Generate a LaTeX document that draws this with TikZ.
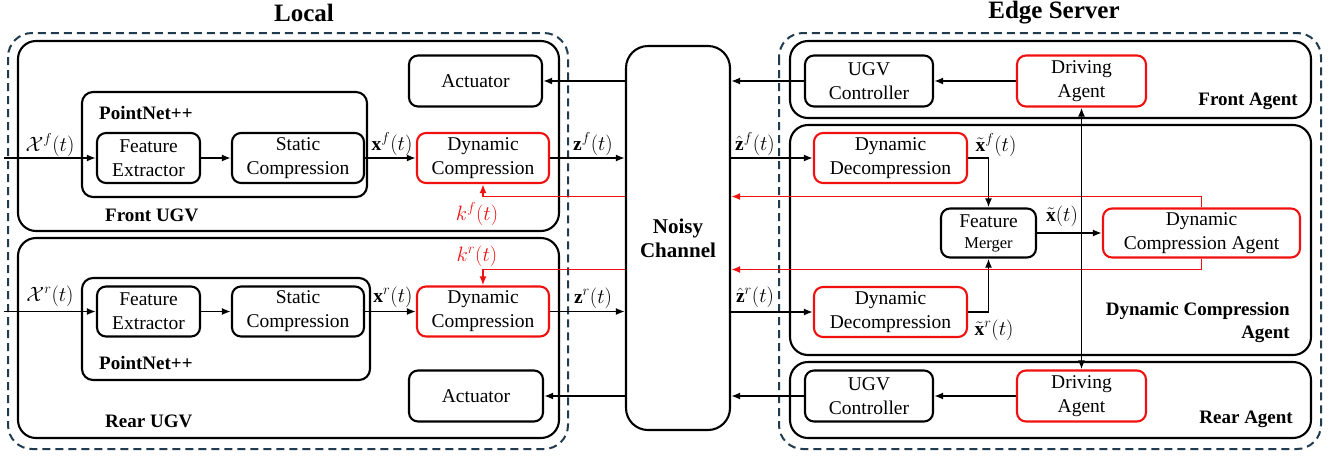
\documentclass[tikz,border=0pt]{standalone}
\usepackage{fontspec}
\setmainfont{Liberation Serif}
\usetikzlibrary{arrows.meta,calc}
\definecolor{dashc}{HTML}{1F3B4D}
\definecolor{myred}{HTML}{F01010}
\begin{document}
\begin{tikzpicture}[x=1pt,y=-1pt,
  box/.style={draw, line width=2.1pt, rounded corners=9pt, align=center, inner sep=0pt, font=\fontsize{19.5}{24}\selectfont},
  redbox/.style={box, draw=myred},
  frame/.style={draw, line width=2.1pt, rounded corners=18pt},
  pnframe/.style={draw, line width=2.1pt, rounded corners=11pt},
  dashframe/.style={draw=dashc, line width=2pt, dash pattern=on 8pt off 5pt, rounded corners=24pt},
  arr/.style={line width=1.9pt, -{Latex[length=9pt,width=7pt]}},
  dblarr/.style={line width=1.9pt, {Latex[length=9pt,width=7pt]}-{Latex[length=9pt,width=7pt]}},
  redarr/.style={arr, draw=myred},
  lab/.style={font=\fontsize{19.5}{24}\selectfont, inner sep=0pt},
  redlab/.style={lab, text=myred},
  blab/.style={font=\fontsize{19}{23}\selectfont\bfseries, inner sep=0pt},
  title/.style={font=\fontsize{25}{30}\selectfont\bfseries, inner sep=0pt},
]
\useasboundingbox (0,0) rectangle (1334,456);

% titles
\node[title] (tlocal) at (304,13) {Local};
\node[title] (tedge) at (1054,13) {Edge Server};

% frames
\draw[dashframe] (8,33) rectangle (568,449);
\draw[dashframe] (779,33) rectangle (1321,449);
\draw[frame] (18,41) rectangle (559,231);
\draw[frame] (18,238) rectangle (559,438);
\draw[pnframe] (82,92) rectangle (367,197);
\draw[pnframe] (82,278) rectangle (370,380);
\draw[frame] (790,41) rectangle (1311,118);
\draw[frame] (790,125) rectangle (1311,355);
\draw[frame] (790,362) rectangle (1311,438);

% frame labels
\node[blab, anchor=west] (pnF) at (99,113) {PointNet++};
\node[blab, anchor=west] (fugv) at (105,215) {Front UGV};
\node[blab, anchor=west] (pnR) at (99,363) {PointNet++};
\node[blab, anchor=west] (rugv) at (105,421) {Rear UGV};
\node[blab, anchor=east] (fag) at (1298,101) {Front Agent};
\node[blab, anchor=east, align=right] (dcal) at (1290,322) {Dynamic Compression\\Agent};
\node[blab, anchor=east] (rag) at (1293,419) {Rear Agent};

% local nodes
\node[box, minimum width=133pt, minimum height=51pt] (actF) at (475.5,81) {Actuator};
\node[box, minimum width=103pt, minimum height=50pt] (feF) at (148.5,158) {Feature\\Extractor};
\node[box, minimum width=132pt, minimum height=50pt] (scF) at (298,158) {Static\\Compression};
\node[redbox, minimum width=132pt, minimum height=50pt] (dcF) at (483,158) {Dynamic\\Compression};
\node[box, minimum width=103pt, minimum height=50pt] (feR) at (148.5,311.5) {Feature\\Extractor};
\node[box, minimum width=132pt, minimum height=50pt] (scR) at (298,311.5) {Static\\Compression};
\node[redbox, minimum width=132pt, minimum height=50pt] (dcR) at (483,311.5) {Dynamic\\Compression};
\node[box, minimum width=134pt, minimum height=51pt] (actR) at (476,396) {Actuator};

% channel
\node[box, rounded corners=22pt, minimum width=104pt, minimum height=384pt, font=\fontsize{21}{24}\selectfont\bfseries] (chan) at (678,238) {Noisy\\Channel};

% edge nodes
\node[box, minimum width=128pt, minimum height=51pt] (ugvF) at (869,81) {UGV\\Controller};
\node[redbox, minimum width=129pt, minimum height=51pt] (daF) at (1081.5,81) {Driving\\Agent};
\node[redbox, minimum width=153pt, minimum height=50pt] (ddF) at (890.5,158) {Dynamic\\Decompression};
\node[box, minimum width=95pt, minimum height=49pt] (fm) at (988.5,233) {Feature\\[-3pt]{\fontsize{16.5}{20}\selectfont Merger}};
\node[redbox, minimum width=197pt, minimum height=49pt] (dca) at (1201.5,233) {Dynamic\\Compression Agent};
\node[redbox, minimum width=153pt, minimum height=50pt] (ddR) at (890.5,312) {Dynamic\\Decompression};
\node[box, minimum width=128pt, minimum height=51pt] (ugvR) at (869,396) {UGV\\Controller};
\node[redbox, minimum width=129pt, minimum height=51pt] (daR) at (1081.5,396) {Driving\\Agent};

% helper coordinates
\coordinate (inF) at (4,158);
\coordinate (inR) at (4,311.5);
\coordinate (kfy) at (0,196.5);
\coordinate (kry) at (0,269.5);

% local arrows
\draw[arr] (inF) -- (feF.west);
\draw[arr] (feF.east) -- (scF.west);
\draw[arr] (scF.east) -- (dcF.west);
\draw[arr] (dcF.east) -- (chan.west |- dcF.east);
\draw[arr] (chan.west |- actF.east) -- (actF.east);
\draw[arr] (inR) -- (feR.west);
\draw[arr] (feR.east) -- (scR.west);
\draw[arr] (scR.east) -- (dcR.west);
\draw[arr] (dcR.east) -- (chan.west |- dcR.east);
\draw[arr] (chan.west |- actR.east) -- (actR.east);
\draw[redarr] (chan.west |- kfy) -| (dcF.south);
\draw[redarr] (chan.west |- kry) -| (dcR.north);

% edge arrows
\draw[arr] (ugvF.west) -- (chan.east |- ugvF.west);
\draw[arr] (daF.west) -- (ugvF.east);
\draw[arr] (chan.east |- ddF.west) -- (ddF.west);
\draw[arr] (ddF.east) -| (fm.north);
\draw[arr] (ddR.east) -| (fm.south);
\draw[arr] (chan.east |- ddR.west) -- (ddR.west);
\draw[arr] (fm.east) -- (dca.west);
\draw[arr] (ugvR.west) -- (chan.east |- ugvR.west);
\draw[arr] (daR.west) -- (ugvR.east);
\draw[redarr] (dca.north) |- (chan.east |- kfy);
\draw[redarr] (dca.south) |- (chan.east |- kry);
\draw[dblarr] (daF.south) -- (daR.north);

% math labels
\node[lab] (lXf) at (50,145) {$\mathcal{X}^{f}(t)$};
\node[lab] (lxf) at (392,144) {$\mathbf{x}^{f}(t)$};
\node[lab] (lzf) at (593,144) {$\mathbf{z}^{f}(t)$};
\node[lab] (lhzf) at (755,144) {$\hat{\mathbf{z}}^{f}(t)$};
\node[redlab] (lkf) at (477,214) {$k^{f}(t)$};
\node[redlab] (lkr) at (477,256) {$k^{r}(t)$};
\node[lab] (lXr) at (50,296) {$\mathcal{X}^{r}(t)$};
\node[lab] (lxr) at (393,297) {$\mathbf{x}^{r}(t)$};
\node[lab] (lzr) at (593,298) {$\mathbf{z}^{r}(t)$};
\node[lab] (lhzr) at (755,297) {$\hat{\mathbf{z}}^{r}(t)$};
\node[lab] (ltxf) at (996,145) {$\tilde{\mathbf{x}}^{f}(t)$};
\node[lab] (ltx) at (1062,216) {$\tilde{\mathbf{x}}(t)$};
\node[lab] (ltxr) at (994,330) {$\tilde{\mathbf{x}}^{r}(t)$};
\end{tikzpicture}
\end{document}
